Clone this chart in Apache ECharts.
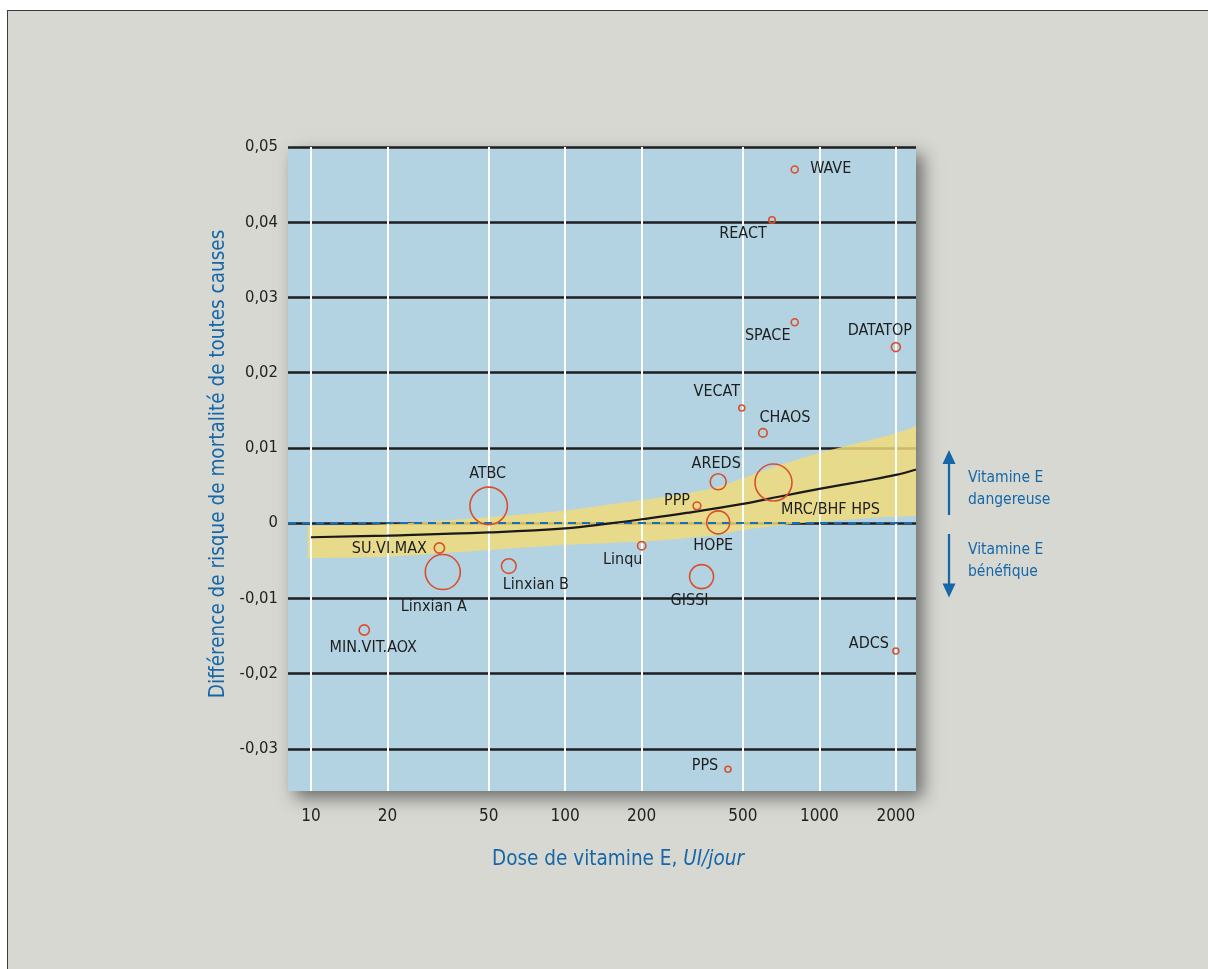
<!DOCTYPE html>
<html>
<head>
<meta charset="utf-8">
<script src="https://cdn.jsdelivr.net/npm/echarts@6/dist/echarts.min.js"></script>
<style>
  html, body { margin: 0; padding: 0; background: #ffffff; overflow: hidden; }
  #panel { position: absolute; left: 7px; top: 10px; width: 1220px; height: 980px; background: #d8d8d3; border: 1px solid #3c3c3c; box-sizing: border-box; }
  #chart { position: absolute; left: 0; top: 0; width: 1208px; height: 969px; }
</style>
</head>
<body>
<div id="panel"></div>
<div id="chart"></div>
<script>
// ---- data ----
const doseTicks = [10, 20, 50, 100, 200, 500, 1000, 2000];

const studies   = ['WAVE', 'REACT', 'SPACE', 'DATATOP', 'VECAT', 'CHAOS', 'AREDS', 'MRC/BHF HPS', 'PPP', 'ATBC', 'HOPE', 'Linqu', 'SU.VI.MAX', 'Linxian B', 'Linxian A', 'GISSI', 'MIN.VIT.AOX', 'ADCS', 'PPS'];
const studyDose = [800, 651, 800, 2000, 495, 600, 400, 660, 330, 50, 400, 200, 32, 60, 33, 344, 16.2, 2000, 437];
const studyDiff = [0.0470, 0.0403, 0.0267, 0.0234, 0.0153, 0.0120, 0.0055, 0.0054, 0.0023, 0.0023, 0.0001, -0.0030, -0.0033, -0.0057, -0.0065, -0.0071, -0.0142, -0.0170, -0.0327];
const studyWeight = [7, 6.5, 7, 9, 6, 8.5, 16, 37, 7.7, 37.5, 23, 8.3, 10.3, 14.7, 35, 24, 10.3, 6, 6];

const curveDose = [10, 20, 50, 100, 150, 200, 300, 500, 700, 1000, 1500, 2000, 2400];
const curveDiff = [-0.00187, -0.00165, -0.00123, -0.0007, -0.00003, 0.00052, 0.00136, 0.00256, 0.00355, 0.00455, 0.00561, 0.00641, 0.00714];

const bandDose  = [9.7, 20, 50, 100, 150, 200, 300, 400, 500, 700, 1000, 1500, 2000, 2400];
const bandUpper = [-0.00037, -0.00014, 0.00079, 0.00167, 0.0025, 0.00305, 0.00398, 0.00482, 0.00597, 0.00774, 0.00934, 0.01084, 0.01195, 0.01292];
const bandLower = [-0.00466, -0.00444, -0.00355, -0.00289, -0.00262, -0.00245, -0.00196, -0.00156, -0.0009, -0.0003, 0.00021, 0.00063, 0.00087, 0.00096];

// ---- label placement (layout, not data) ----
const labelOffsets = {
  'WAVE': [36, -1], 'REACT': [-29, 14], 'SPACE': [-27, 14], 'DATATOP': [-16, -16],
  'VECAT': [-25, -16], 'CHAOS': [22, -15], 'AREDS': [-2, -18], 'MRC/BHF HPS': [57, 27],
  'PPP': [-20, -5], 'ATBC': [-1, -32], 'HOPE': [-5, 23], 'Linqu': [-19, 14],
  'SU.VI.MAX': [-50, 1], 'Linxian B': [27, 19], 'Linxian A': [-9, 35], 'GISSI': [-12, 24],
  'MIN.VIT.AOX': [9, 18], 'ADCS': [-27, -7], 'PPS': [-23, -3]
};

const FONT = "'Liberation Sans Narrow', 'DejaVu Sans Condensed', 'Roboto Condensed', sans-serif";
const BLUE = '#1667a8';

const chart = echarts.init(document.getElementById('chart'), null, { renderer: 'canvas' });

const scatterData = studies.map((name, i) => ({
  name: name,
  value: [studyDose[i], studyDiff[i]],
  symbolSize: studyWeight[i],
  label: { offset: labelOffsets[name] }
}));

// smooth path (Catmull-Rom -> cubic Bezier) through pixel points
function smoothSegment(pts, moveFirst) {
  let d = (moveFirst ? 'M' : 'L') + pts[0][0] + ' ' + pts[0][1];
  for (let i = 0; i < pts.length - 1; i++) {
    const p0 = pts[i - 1] || pts[i], p1 = pts[i], p2 = pts[i + 1], p3 = pts[i + 2] || pts[i + 1];
    const t = 0.16;
    const c1 = [p1[0] + (p2[0] - p0[0]) * t, p1[1] + (p2[1] - p0[1]) * t];
    const c2 = [p2[0] - (p3[0] - p1[0]) * t, p2[1] - (p3[1] - p1[1]) * t];
    d += ' C' + c1[0] + ' ' + c1[1] + ' ' + c2[0] + ' ' + c2[1] + ' ' + p2[0] + ' ' + p2[1];
  }
  return d;
}

const option = {
  backgroundColor: 'transparent',
  animation: false,
  textStyle: { fontFamily: FONT },
  grid: {
    left: 288, top: 147, right: 292, bottom: 178,
    show: true, backgroundColor: '#b3d3e2', borderWidth: 0,
    shadowBlur: 16, shadowColor: 'rgba(0,0,0,0.5)', shadowOffsetX: 7, shadowOffsetY: 7
  },
  xAxis: {
    type: 'log', logBase: 10, min: 8.12, max: 2400,
    axisLine: { show: false }, axisTick: { show: false },
    axisLabel: { show: false }, splitLine: { show: false },
    name: 'Dose de vitamine E, {i|UI/jour}',
    nameLocation: 'middle', nameGap: 58,
    nameTextStyle: {
      color: BLUE, fontSize: 20.5, fontFamily: FONT, padding: [0, 0, 0, 32],
      rich: { i: { fontStyle: 'italic', color: BLUE, fontSize: 20.5, fontFamily: FONT } }
    }
  },
  yAxis: {
    type: 'value', min: -0.0356, max: 0.05, splitNumber: 9,
    minInterval: 0.01, maxInterval: 0.01,
    axisLine: { show: false }, axisTick: { show: false },
    axisLabel: {
      color: '#222', fontSize: 16.5, margin: 10, showMinLabel: false,
      formatter: v => Math.abs(v) < 1e-9 ? '0' : v.toFixed(2).replace('.', ',')
    },
    splitLine: { show: true, showMinLine: false, lineStyle: { color: '#1e1e1e', width: 2.5 } },
    name: 'Différence de risque de mortalité de toutes causes',
    nameLocation: 'middle', nameGap: 45,
    nameTextStyle: { color: BLUE, fontSize: 20.5, fontFamily: FONT, padding: [0, 0, 0, 10] }
  },
  series: [
    {
      // white vertical grid lines + x tick labels
      type: 'line', data: [], z: 2, silent: true,
      markLine: {
        silent: true, symbol: ['none', 'none'], animation: false,
        lineStyle: { color: '#ffffff', width: 2, type: 'solid' },
        label: { show: true, position: 'start', distance: 17, color: '#222', fontSize: 17, fontFamily: FONT },
        data: doseTicks.map(v => ({ xAxis: v, label: { formatter: String(v) } }))
      }
    },
    {
      // confidence band
      type: 'custom', z: 3, silent: true,
      data: [[bandDose[0], bandUpper[0]]],
      renderItem: (params, api) => {
        const up = bandDose.map((d, i) => api.coord([d, bandUpper[i]]));
        const lo = bandDose.map((d, i) => api.coord([d, bandLower[i]])).reverse();
        const pathData = smoothSegment(up, true) + ' ' + smoothSegment(lo, false) + ' Z';
        return {
          type: 'path',
          shape: { pathData: pathData },
          style: { fill: '#f4dc78', opacity: 0.82 }
        };
      }
    },
    {
      // fitted curve + zero reference line
      type: 'line', z: 5, silent: true, smooth: 0.4, symbol: 'none',
      data: curveDose.map((d, i) => [d, curveDiff[i]]),
      lineStyle: { color: '#1a1a1a', width: 2.2 },
      markLine: {
        silent: true, symbol: ['none', 'none'], animation: false,
        lineStyle: { color: '#1b6fae', width: 2, type: [8, 6] },
        label: { show: false },
        data: [{ yAxis: 0 }]
      }
    },
    {
      type: 'scatter', z: 8, silent: true,
      symbol: 'circle',
      itemStyle: { color: 'rgba(0,0,0,0)', borderColor: '#d9502c', borderWidth: 1.6, opacity: 1 },
      label: {
        show: true, position: 'inside', formatter: '{b}',
        color: '#1e1e1e', fontSize: 16, fontFamily: FONT, align: 'center', verticalAlign: 'middle',
        textBorderWidth: 0, textBorderColor: 'transparent', textShadowBlur: 0
      },
      data: scatterData
    }
  ],
  graphic: [
    { type: 'line', z: 100, shape: { x1: 949, y1: 462, x2: 949, y2: 515 }, style: { stroke: BLUE, lineWidth: 2.3 } },
    { type: 'polygon', z: 100, shape: { points: [[949, 450], [942.5, 464], [955.5, 464]] }, style: { fill: BLUE } },
    { type: 'line', z: 100, shape: { x1: 949, y1: 534, x2: 949, y2: 585 }, style: { stroke: BLUE, lineWidth: 2.3 } },
    { type: 'polygon', z: 100, shape: { points: [[949, 597.5], [942.5, 583.5], [955.5, 583.5]] }, style: { fill: BLUE } },
    { type: 'text', z: 100, x: 968, y: 467, style: { text: 'Vitamine E\ndangereuse', fill: BLUE, fontSize: 15.5, lineHeight: 22, fontFamily: FONT } },
    { type: 'text', z: 100, x: 968, y: 539, style: { text: 'Vitamine E\nbénéfique', fill: BLUE, fontSize: 15.5, lineHeight: 22, fontFamily: FONT } }
  ]
};

chart.setOption(option);
</script>
</body>
</html>
